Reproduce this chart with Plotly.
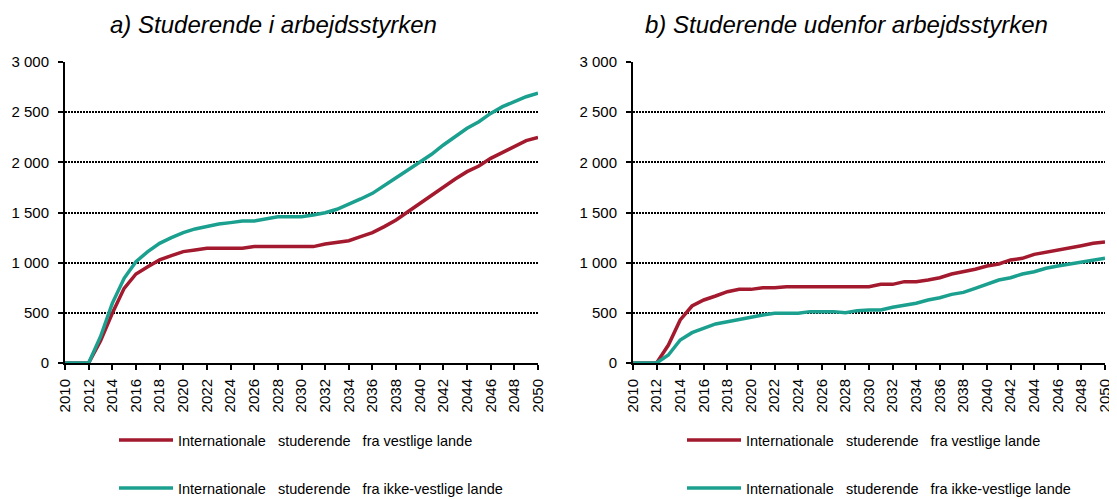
import plotly.graph_objects as go

years = list(range(2010, 2051))

# Panel a) Studerende i arbejdsstyrken
a_vestlige = [0, 0, 0, 220, 495, 744, 887, 960, 1027, 1070,
              1110, 1126, 1143, 1143, 1143, 1143, 1160, 1160, 1160, 1160,
              1160, 1160, 1186, 1199, 1219, 1259, 1299, 1359, 1425, 1508,
              1591, 1674, 1757, 1834, 1907, 1963, 2040, 2096, 2156, 2216,
              2249]
a_ikke_vestlige = [0, 0, 0, 262, 595, 844, 1010, 1110, 1193, 1249,
                   1299, 1336, 1365, 1385, 1399, 1415, 1415, 1435, 1458, 1458,
                   1458, 1475, 1498, 1532, 1581, 1635, 1691, 1774, 1847, 1924,
                   2000, 2080, 2173, 2256, 2339, 2405, 2488, 2555, 2605, 2654,
                   2688]

# Panel b) Studerende udenfor arbejdsstyrken
b_vestlige = [0, 0, 0, 179, 429, 568, 628, 668, 711, 734,
              734, 751, 751, 761, 761, 761, 761, 761, 761, 761,
              761, 784, 784, 811, 811, 827, 850, 887, 910, 934,
              967, 987, 1027, 1043, 1083, 1103, 1126, 1150, 1169, 1193,
              1206]
b_ikke_vestlige = [0, 0, 0, 80, 229, 302, 346, 389, 412, 435,
                   462, 478, 495, 495, 495, 512, 512, 512, 502, 522,
                   528, 528, 555, 575, 595, 628, 651, 684, 704, 744,
                   784, 827, 850, 887, 910, 944, 967, 987, 1010, 1027,
                   1043]

titles = ["a) Studerende i arbejdsstyrken", "b) Studerende udenfor arbejdsstyrken"]
name_v = "Internationale\u00a0\u00a0 studerende\u00a0\u00a0 fra vestlige lande"
name_iv = "Internationale\u00a0\u00a0 studerende\u00a0\u00a0 fra ikke-vestlige lande"
x_ticks = list(range(2010, 2051, 2))
y_ticks = [0, 500, 1000, 1500, 2000, 2500, 3000]
y_ticktext = ["0", "500", "1 000", "1 500", "2 000", "2 500", "3 000"]

RED = "#A3192D"
TEAL = "#1BA08F"
FONT = "Liberation Sans, Arial, sans-serif"

# the page body has an 8px margin; size the figure to fit the window
OFF = 8
W, H = 1117 - OFF, 499 - OFF


def px(x):
    return (x - OFF) / W


def py(y):
    return 1 - (y - OFF) / H


fig = go.Figure()

panels = [
    ("x", "y", ("legend", "legend2"), a_vestlige, a_ikke_vestlige),
    ("x2", "y2", ("legend3", "legend4"), b_vestlige, b_ikke_vestlige),
]
for i, (xa, ya, lgs, v, iv) in enumerate(panels):
    fig.add_trace(go.Scatter(x=years, y=v, mode="lines", name=name_v,
                             line=dict(color=RED, width=3.5),
                             xaxis=xa, yaxis=ya, legend=lgs[0], showlegend=True))
    fig.add_trace(go.Scatter(x=years, y=iv, mode="lines", name=name_iv,
                             line=dict(color=TEAL, width=3.5),
                             xaxis=xa, yaxis=ya, legend=lgs[1], showlegend=True))

xdoms = [[px(65), px(538)], [px(633), px(1105)]]
ydom = [py(363), py(62)]

xcommon = dict(range=[2010, 2050], tickvals=x_ticks, tickangle=-90,
               ticks="outside", ticklen=5, tickcolor="black", tickwidth=1.5,
               showline=True, linecolor="black", linewidth=2,
               showgrid=False, zeroline=False, ticklabelstandoff=3,
               tickfont=dict(family=FONT, size=15, color="black"))
ycommon = dict(range=[0, 3000], tickvals=y_ticks, ticktext=y_ticktext,
               ticks="outside", ticklen=5, tickcolor="black", tickwidth=1.5,
               showline=True, linecolor="black", linewidth=2,
               showgrid=True, gridcolor="black", gridwidth=1.8,
               griddash="1.5px,1.5px",
               zeroline=False, ticklabelstandoff=6,
               tickfont=dict(family=FONT, size=15, color="black"))

legcommon = dict(orientation="v",
                 font=dict(family=FONT, size=14.5, color="black"),
                 bgcolor="rgba(0,0,0,0)", itemwidth=54,
                 xanchor="left", yanchor="middle")

fig.update_layout(
    width=W, height=H,
    showlegend=True,
    margin=dict(l=0, r=0, t=0, b=0, autoexpand=False),
    paper_bgcolor="white", plot_bgcolor="white",
    xaxis=dict(domain=xdoms[0], anchor="y", **xcommon),
    yaxis=dict(domain=ydom, anchor="x", **ycommon),
    xaxis2=dict(domain=xdoms[1], anchor="y2", **xcommon),
    yaxis2=dict(domain=ydom, anchor="x2", **ycommon),
    legend=dict(x=px(114), y=py(440), **legcommon),
    legend2=dict(x=px(114), y=py(488), **legcommon),
    legend3=dict(x=px(682), y=py(440), **legcommon),
    legend4=dict(x=px(682), y=py(488), **legcommon),
    annotations=[
        dict(text=f"<i>{titles[0]}</i>", x=px(273), y=py(25), xref="paper", yref="paper",
             xanchor="center", yanchor="middle", showarrow=False,
             font=dict(family=FONT, size=24, color="black")),
        dict(text=f"<i>{titles[1]}</i>", x=px(846), y=py(25), xref="paper", yref="paper",
             xanchor="center", yanchor="middle", showarrow=False,
             font=dict(family=FONT, size=24, color="black")),
    ],
)

fig.write_html("out.html")
